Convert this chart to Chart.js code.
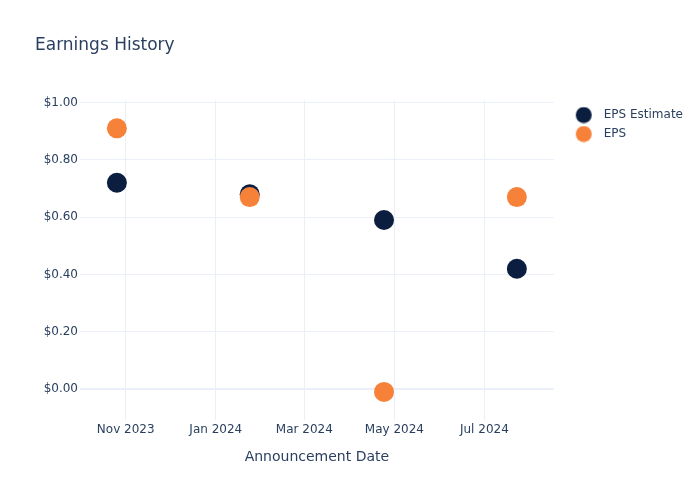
<!DOCTYPE html>
<html><head><meta charset="utf-8">
<script src="https://cdn.jsdelivr.net/npm/chart.js@4"></script>
<style>html,body{margin:0;padding:0;background:#fff}#wrap{width:700px;height:500px}</style>
</head><body><div id="wrap"><canvas id="c" width="700" height="500"></canvas></div>
<script>
const announcementDates = ['2023-10-26','2024-01-24','2024-04-24','2024-07-23'];
const epsEstimate = [0.72, 0.68, 0.59, 0.42];
const epsActual = [0.91, 0.67, -0.01, 0.67];
const seriesNames = ['EPS Estimate', 'EPS'];
const xTickDates = ['2023-11-01','2024-01-01','2024-03-01','2024-05-01','2024-07-01'];
const xTickLabels = ['Nov 2023','Jan 2024','Mar 2024','May 2024','Jul 2024'];
const yTickValues = [0, 0.2, 0.4, 0.6, 0.8, 1.0];
const xRange = ['2023-10-01','2024-08-17'];
const yRange = [-0.108, 1.009];

const NAVY = '#0b1e40';
const ORANGE = '#f6823a';
const TEXT = '#2a3f5f';
const GRID = '#ebf0f8';
const FONT = 'DejaVu Sans';

function toPoints(vals) {
  return announcementDates.map((d, i) => ({x: Date.parse(d), y: vals[i]}));
}
function swatch(color) {
  const c = document.createElement('canvas');
  c.width = 37; c.height = 17;
  const g = c.getContext('2d');
  g.fillStyle = color;
  g.beginPath(); g.arc(23, 8.5, 8, 0, Math.PI * 2); g.fill();
  return c;
}
const swatches = [swatch(NAVY), swatch(ORANGE)];
const tickMap = {};
xTickDates.forEach((d, i) => { tickMap[Date.parse(d)] = xTickLabels[i]; });

const legendNudge = {
  id: 'legendNudge',
  afterLayout(chart) { if (chart.legend) { chart.legend.top += 2; chart.legend.bottom += 2; } }
};

new Chart(document.getElementById('c'), {
  type: 'scatter',
  data: {
    datasets: [
      {label: seriesNames[0], data: toPoints(epsEstimate), backgroundColor: NAVY, borderWidth: 0,
       pointRadius: 10, pointHoverRadius: 10, order: 1},
      {label: seriesNames[1], data: toPoints(epsActual), backgroundColor: ORANGE, borderWidth: 0,
       pointRadius: 10, pointHoverRadius: 10, order: 0}
    ]
  },
  plugins: [legendNudge],
  options: {
    responsive: false,
    animation: false,
    layout: {padding: {left: 35, right: 7, top: 0, bottom: 0}},
    plugins: {
      title: {display: true, text: 'Earnings History', align: 'start', color: TEXT,
        font: {family: FONT, size: 17, weight: 'normal'}, padding: {top: 35, bottom: 44.6}},
      legend: {
        position: 'right', align: 'start', fullSize: false,
        labels: {
          usePointStyle: true, pointStyleWidth: 37, boxHeight: 12, padding: 7,
          color: TEXT, font: {family: FONT, size: 12},
          sort: (a, b) => a.datasetIndex - b.datasetIndex,
          generateLabels: (chart) => {
            const items = Chart.defaults.plugins.legend.labels.generateLabels(chart);
            items.forEach(it => { it.pointStyle = swatches[it.datasetIndex]; });
            return items;
          }
        }
      },
      tooltip: {enabled: false}
    },
    scales: {
      x: {
        type: 'linear',
        min: Date.parse(xRange[0]), max: Date.parse(xRange[1]),
        afterBuildTicks: (s) => { s.ticks = xTickDates.map(d => ({value: Date.parse(d)})); },
        afterFit: (s) => { s.height = 80; },
        ticks: {color: TEXT, font: {family: FONT, size: 12}, padding: 3, maxRotation: 0,
          autoSkip: false, callback: (v) => tickMap[v]},
        grid: {color: GRID, lineWidth: 1, drawTicks: false},
        border: {display: false},
        title: {display: true, text: 'Announcement Date', color: TEXT,
          font: {family: FONT, size: 14}, padding: {top: 0, bottom: 34}}
      },
      y: {
        min: yRange[0], max: yRange[1],
        afterBuildTicks: (s) => { s.ticks = yTickValues.map(v => ({value: v})); },
        afterFit: (s) => { s.width = 45; },
        ticks: {color: TEXT, font: {family: FONT, size: 12}, padding: 2,
          callback: (v) => '$' + Number(v).toFixed(2)},
        grid: {color: GRID, lineWidth: (c) => (c.tick && c.tick.value === 0 ? 2 : 1), drawTicks: false},
        border: {display: false}
      }
    }
  }
});
</script>
</body></html>
